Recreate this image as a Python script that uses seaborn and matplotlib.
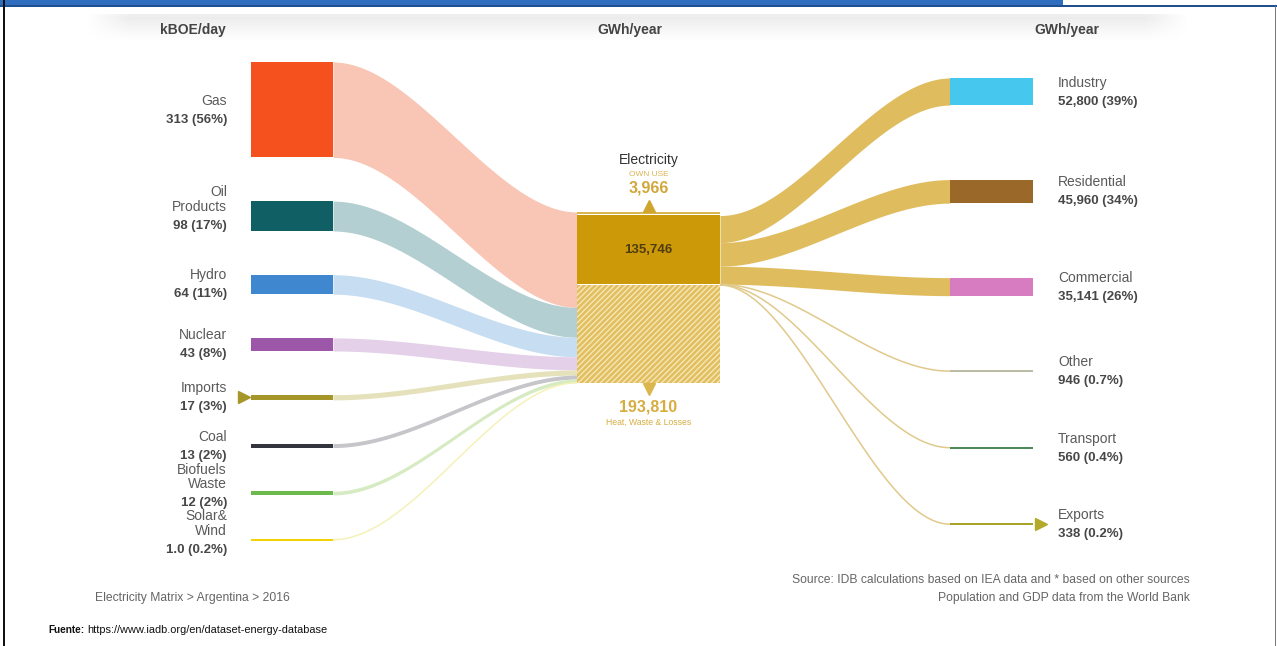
import numpy as np
import pandas as pd
import matplotlib
matplotlib.use('Agg')
import matplotlib.pyplot as plt
import seaborn as sns
from matplotlib.patches import Rectangle

# Fontes primárias (kBOE/day)
src_names = ['Gas', 'Oil\nProducts', 'Hydro', 'Nuclear', 'Imports', 'Coal',
             'Biofuels\nWaste', 'Solar&\nWind']
src_values = [313, 98, 64, 43, 17, 13, 12, 1.0]
src_labels = ['313', '98', '64', '43', '17', '13', '12', '1.0']
src_pct = ['56%', '17%', '11%', '8%', '3%', '2%', '2%', '0.2%']

# Nó central: electricity (GWh/year)
elec_parts = ['OWN USE', 'Electricity', 'Heat, Waste & Losses']
elec_values = [3966, 135746, 193810]

# Consumo final (GWh/year)
dest_names = ['Industry', 'Residential', 'Commercial', 'Other', 'Transport', 'Exports']
dest_values = [52800, 45960, 35141, 946, 560, 338]
dest_pct = ['39%', '34%', '26%', '0.7%', '0.4%', '0.2%']

col_titles = ['kBOE/day', 'GWh/year', 'GWh/year']

# estilos
src_colors = ['#f4511f', '#0f5f64', '#3f88cf', '#9d57a9', '#a6962a', '#34343f', '#6cba4c', '#f2d200']
src_flow_colors = ['#f9c5b5', '#b4cfd2', '#c7ddf1', '#e4d0e8', '#e4e1bb', '#c5c5ca', '#d6ebc2', '#f5f2b8']
dest_colors = ['#46c8ee', '#9a6829', '#d77cc0', '#bcbca6', '#4e8b5c', '#aaa32b']
flow_tan = '#dfbd5f'
gold = '#cc9a08'
name_color = '#5a5a5a'
value_color = '#474747'

# layout (pixels)
FIG_W, FIG_H = 1277, 646
X_SRC = (251, 333)
X_MID = (577, 720)
X_DST = (950, 1033)
MID_TOP = 212
MID_H = 171
SRC_TOP, SRC_GAP = 62, 43.7
DST_TOP, DST_GAP = 78, 74.5

sns.set_theme(style='white')
plt.rcParams['font.family'] = ['Liberation Sans', 'DejaVu Sans']
plt.rcParams['hatch.linewidth'] = 1.0

df_src = pd.DataFrame({'name': src_names, 'value': src_values, 'label': src_labels,
                       'pct': src_pct, 'color': src_colors, 'flow': src_flow_colors})
df_dst = pd.DataFrame({'name': dest_names, 'value': dest_values, 'pct': dest_pct,
                       'color': dest_colors})

s_left = MID_H / df_src['value'].sum()
s_mid = MID_H / sum(elec_values)


def band(ax, x0, x1, y0, y1, h, color, zorder=1):
    t = np.linspace(0, 1, 120)
    s = 3 * t ** 2 - 2 * t ** 3
    x = x0 + (x1 - x0) * t
    top = y0 + (y1 - y0) * s
    if h < 1.6:
        ax.plot(x, top + h / 2, color=color, lw=1.1, solid_capstyle='butt', zorder=zorder)
    else:
        ax.fill_between(x, top, top + h, color=color, lw=0, zorder=zorder)


fig = plt.figure(figsize=(FIG_W / 100, FIG_H / 100), dpi=100)
ax = fig.add_axes([0, 0, 1, 1])
ax.set_xlim(0, FIG_W)
ax.set_ylim(FIG_H, 0)
ax.axis('off')

# moldura / cabeçalho
ax.add_patch(Rectangle((0, 0), 1063, 5, color='#2f6dbf', lw=0))
ax.add_patch(Rectangle((0, 5), FIG_W, 1.6, color='#1f4f8f', lw=0))
ax.add_patch(Rectangle((3, 0), 2.2, FIG_H, color='#111111', lw=0))
ax.add_patch(Rectangle((1274.5, 6), 1, FIG_H, color='#777777', lw=0))

# sombra do painel
ny, nx = 40, 400
yy = np.linspace(0, 1, ny)[:, None]
xx = np.linspace(0, 1, nx)[None, :]
shade = np.where(yy < 0.07, 0.10, 0.12 * np.clip(1 - (yy - 0.07) / 0.75, 0, 1) ** 1.3)
edge = np.clip(np.minimum(xx, 1 - xx) / 0.04, 0, 1)
alpha = shade * edge
rgba = np.zeros((ny, nx, 4))
rgba[..., :3] = 0.35
rgba[..., 3] = alpha
ax.imshow(rgba, extent=(85, 1190, 50, 14), aspect='auto', zorder=0)
ax.set_xlim(0, FIG_W)
ax.set_ylim(FIG_H, 0)

for x, t in zip([193, 630, 1067], col_titles):
    ax.text(x, 30, t, ha='center', va='center', fontsize=10, fontweight='bold', color='#444444')

# nós de origem + fluxos para o centro
y = SRC_TOP
cy = MID_TOP
for _, r in df_src.iterrows():
    h = r['value'] * s_left
    hn = max(h, 2.2)
    band(ax, X_SRC[1], X_MID[0], y + (hn - h) / 2, cy, h, r['flow'])
    ax.bar((X_SRC[0] + X_SRC[1]) / 2, hn, bottom=y, width=X_SRC[1] - X_SRC[0],
           color=r['color'], lw=0, zorder=3)
    c = y + hn / 2
    ax.text(227, c - 2, r['name'], ha='right', va='bottom', fontsize=10,
            color=name_color, linespacing=1.05, multialignment='right')
    ax.text(227, c + 4, f"{r['label']} ({r['pct']})", ha='right', va='top',
            fontsize=9.5, fontweight='bold', color=value_color)
    if r['name'] == 'Imports':
        ax.plot(X_SRC[0] - 7, c, marker='>', markersize=8, color=r['color'], zorder=4)
    cy += h
    y += hn + SRC_GAP

# nó central
own_h, net_h, loss_h = [v * s_mid for v in elec_values]
mw = X_MID[1] - X_MID[0]
ax.add_patch(Rectangle((X_MID[0], MID_TOP), mw, own_h, color='#d9b650', lw=0, zorder=3))
ax.add_patch(Rectangle((X_MID[0], MID_TOP + own_h + 1), mw, net_h - 1, color=gold, lw=0, zorder=3))
ax.add_patch(Rectangle((X_MID[0], MID_TOP + own_h + net_h + 1), mw, loss_h - 1,
                       facecolor='#e2bf5e', edgecolor='#f6e6b8', lw=0, hatch='//////', zorder=3))
xm = (X_MID[0] + X_MID[1]) / 2
ax.plot(xm, MID_TOP - 6, marker='^', markersize=9, color='#cfa52e', zorder=4)
ax.plot(xm, MID_TOP + MID_H + 6, marker='v', markersize=9, color='#dab64c', zorder=4)
ax.text(xm, 160, 'Electricity', ha='center', va='center', fontsize=10, color='#333333')
ax.text(xm, 174, elec_parts[0], ha='center', va='center', fontsize=6, color='#d8b451')
ax.text(xm, 188, f'{elec_values[0]:,}', ha='center', va='center', fontsize=11.5,
        fontweight='bold', color='#d2a73a')
ax.text(xm, MID_TOP + own_h + net_h / 2 + 1, f'{elec_values[1]:,}', ha='center', va='center',
        fontsize=9.5, fontweight='bold', color='#4f3c10', zorder=5)
ax.text(xm, 407, f'{elec_values[2]:,}', ha='center', va='center', fontsize=11.5,
        fontweight='bold', color='#d6ad3e')
ax.text(xm, 422, elec_parts[2], ha='center', va='center', fontsize=6.2, color='#d6ad3e')

# fluxos do centro para consumo final
y = DST_TOP
cy = MID_TOP + own_h + 1.5
for _, r in df_dst.iterrows():
    h = r['value'] * s_mid
    hn = max(h, 2.0)
    col = flow_tan if h >= 1.6 else '#e0c98a'
    band(ax, X_MID[1], X_DST[0], cy, y + (hn - h) / 2, h, col)
    ax.bar((X_DST[0] + X_DST[1]) / 2, hn, bottom=y, width=X_DST[1] - X_DST[0],
           color=r['color'], lw=0, zorder=3)
    c = y + hn / 2
    ax.text(1058, c - 2, r['name'], ha='left', va='bottom', fontsize=10, color=name_color)
    ax.text(1058, c + 4, f"{r['value']:,} ({r['pct']})", ha='left', va='top',
            fontsize=9.5, fontweight='bold', color=value_color)
    if r['name'] == 'Exports':
        ax.plot(X_DST[1] + 8, c, marker='>', markersize=8, color='#b3aa2a', zorder=4)
    cy += h
    y += hn + DST_GAP

# rodapé
ax.text(95, 598, 'Electricity Matrix > Argentina > 2016', ha='left', va='center',
        fontsize=8.7, color='#666666')
ax.text(1190, 580, 'Source: IDB calculations based on IEA data and * based on other sources',
        ha='right', va='center', fontsize=8.7, color='#666666')
ax.text(1190, 598, 'Population and GDP data from the World Bank', ha='right', va='center',
        fontsize=8.7, color='#666666')
lbl = ax.text(48, 630, 'Fuente:', ha='left', va='center', fontsize=7.2, fontweight='bold',
              color='#111111')
fig.canvas.draw()
bb = lbl.get_window_extent(renderer=fig.canvas.get_renderer())
x_url = ax.transData.inverted().transform((bb.x1, bb.y0))[0] + 3
ax.text(x_url, 630, 'https://www.iadb.org/en/dataset-energy-database', ha='left', va='center',
        fontsize=7.9, color='#111111')

fig.savefig('out.png', dpi=100)
